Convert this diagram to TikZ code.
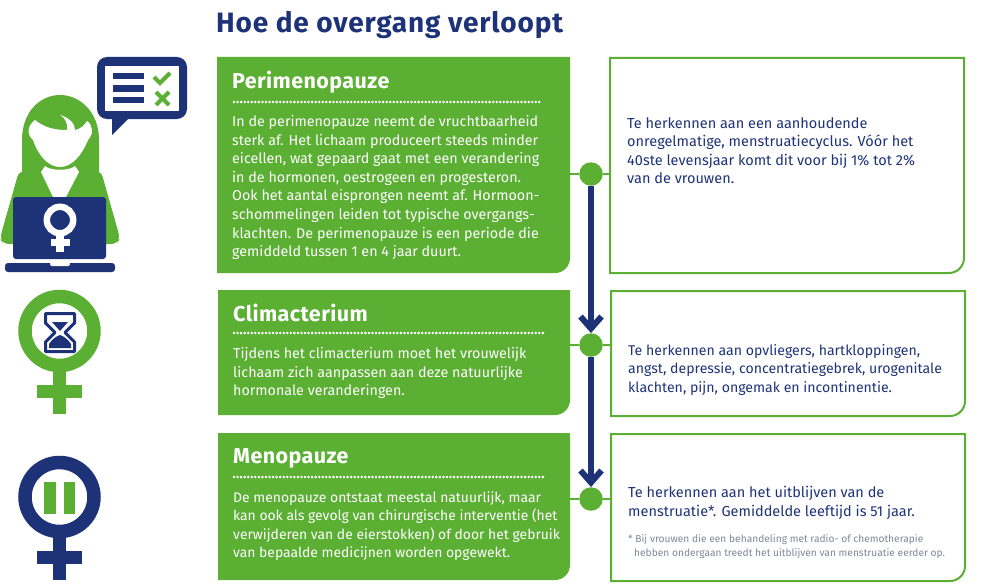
\documentclass[tikz,border=0pt]{standalone}
\usepackage{fontspec}
\setmainfont{Fira Sans}
\usetikzlibrary{arrows.meta,positioning}

\definecolor{overgangGreen}{HTML}{5BAF33}
\definecolor{overgangNavy}{HTML}{1E3278}
\definecolor{noteGrey}{HTML}{7C8798}

\tikzset{
    headtext/.style={anchor=north west, inner sep=0pt, font=\addfontfeatures{LetterSpace=3}\fontsize{28}{32}\selectfont\bfseries, text=overgangNavy},
    titletext/.style={anchor=north west, inner sep=0pt, font=\addfontfeatures{LetterSpace=2}\fontsize{21.5}{25}\selectfont\bfseries, text=white},
    bodytext/.style={anchor=north west, inner sep=0pt, align=left, font=\fontsize{14.3}{18.65}\selectfont, text=white},
    menotext/.style={bodytext, font=\fontsize{13.9}{18.65}\selectfont},
    sidetext/.style={anchor=north west, inner sep=0pt, align=left, font=\fontsize{14.5}{18.5}\selectfont, text=overgangNavy},
    climside/.style={sidetext, font=\fontsize{14.1}{18.5}\selectfont},
    notetext/.style={anchor=north west, inner sep=0pt, align=left, font=\fontsize{10.2}{14}\selectfont, text=noteGrey},
    dotline/.style={white, line width=2.8pt, line cap=round, dash pattern=on 0pt off 3.55pt},
    stepdot/.style={circle, fill=overgangGreen, minimum size=23.5pt, inner sep=0pt},
    flowline/.style={overgangNavy, line width=5.5pt, -{Straight Barb[length=12pt,width=21pt,line width=6pt]}},
    linkline/.style={overgangGreen, line width=2pt},
}

\newcommand{\cornerfill}[3]{\fill[overgangGreen] (#1) -- (#2) [rounded corners=15pt] -- (#2 |- #3) [sharp corners] -- (#1 |- #3) -- cycle;}
\newcommand{\cornerline}[3]{\draw[overgangGreen, line width=2pt] (#1) -- (#2) [rounded corners=15pt] -- (#2 |- #3) [sharp corners] -- (#1 |- #3) -- cycle;}
\newcommand{\venussign}[3]{
    \draw[#3, line width=13.5pt] (#1,#2) circle (34.5pt);
    \fill[#3] (#1-6.5,#2+38) rectangle (#1+6.5,#2+83);
    \fill[#3] (#1-22.5,#2+54) rectangle (#1+22.5,#2+67);
}

\begin{document}
\begin{tikzpicture}[x=1pt, y=-1pt]
    \useasboundingbox (0,0) rectangle (993,586);

    \node[headtext] (heading) at (216,11) {Hoe de overgang verloopt};

    \coordinate (perinw) at (217,57);
    \coordinate (perine) at (570,57);
    \coordinate (perise) at (570,273);
    \coordinate (climnw) at (218,290);
    \coordinate (climne) at (570,290);
    \coordinate (climse) at (570,415);
    \coordinate (menonw) at (218,433);
    \coordinate (menone) at (570,433);
    \coordinate (menose) at (570,580);
    \cornerfill{perinw}{perine}{perise}
    \cornerfill{climnw}{climne}{climse}
    \cornerfill{menonw}{menone}{menose}

    \coordinate (perisidenw) at (610,58);
    \coordinate (perisidene) at (964,58);
    \coordinate (perisidese) at (964,273);
    \coordinate (climsidenw) at (611,291);
    \coordinate (climsidene) at (965,291);
    \coordinate (climsidese) at (965,416);
    \coordinate (menosidenw) at (611,434);
    \coordinate (menosidene) at (965,434);
    \coordinate (menosidese) at (965,581);
    \cornerline{perisidenw}{perisidene}{perisidese}
    \cornerline{climsidenw}{climsidene}{climsidese}
    \cornerline{menosidenw}{menosidene}{menosidese}

    \node[titletext] (perititle) at (232,71) {Perimenopauze};
    \draw[dotline] (234,102) -- (540,102);
    \node[bodytext] (peribody) at (232,115) {In de perimenopauze neemt de vruchtbaarheid\\
        sterk af. Het lichaam produceert steeds minder\\
        eicellen, wat gepaard gaat met een verandering\\
        in de hormonen, oestrogeen en progesteron.\\
        Ook het aantal eisprongen neemt af. Hormoon-\\
        schommelingen leiden tot typische overgangs-\\
        klachten. De perimenopauze is een periode die\\
        gemiddeld tussen 1 en 4 jaar duurt.};

    \node[titletext] (climtitle) at (233,304) {Climacterium};
    \draw[dotline] (234,333) -- (546,333);
    \node[bodytext] (climbody) at (233,347) {Tijdens het climacterium moet het vrouwelijk\\
        lichaam zich aanpassen aan deze natuurlijke\\
        hormonale veranderingen.};

    \node[titletext] (menotitle) at (233,448) {Menopauze};
    \draw[dotline] (234,477) -- (546,477);
    \node[menotext] (menobody) at (233,491) {De menopauze ontstaat meestal natuurlijk, maar\\
        kan ook als gevolg van chirurgische interventie (het\\
        verwijderen van de eierstokken) of door het gebruik\\
        van bepaalde medicijnen worden opgewekt.};

    \node[sidetext] (peritext) at (627,117) {Te herkennen aan een aanhoudende\\
        onregelmatige, menstruatiecyclus. V\'o\'or het\\
        40ste levensjaar komt dit voor bij 1\% tot 2\%\\
        van de vrouwen.};
    \node[climside] (climtext) at (628,344) {Te herkennen aan opvliegers, hartkloppingen,\\
        angst, depressie, concentratiegebrek, urogenitale\\
        klachten, pijn, ongemak en incontinentie.};
    \node[sidetext] (menotext) at (628,486) {Te herkennen aan het uitblijven van de\\
        menstruatie*. Gemiddelde leeftijd is 51 jaar.};
    \node[notetext] (menonote) at (628,534) {* Bij vrouwen die een behandeling met radio- of chemotherapie\\
        \hspace*{6pt}hebben ondergaan treedt het uitblijven van menstruatie eerder op.};

    \node[stepdot] (peridot) at (591,174) {};
    \node[stepdot] (climdot) at (591,345) {};
    \node[stepdot] (menodot) at (591,499) {};
    \draw[linkline] (peridot -| perise) -- (peridot);
    \draw[linkline] (peridot) -- (peridot -| perisidenw);
    \draw[linkline] (climdot -| climse) -- (climdot);
    \draw[linkline] (climdot) -- (climdot -| climsidenw);
    \draw[linkline] (menodot -| menose) -- (menodot);
    \draw[linkline] (menodot) -- (menodot -| menosidenw);
    \draw[flowline] (peridot) -- (climdot);
    \draw[flowline] (climdot) -- (menodot);

    % person
    \fill[overgangGreen] (22,176) -- (22,140) .. controls (22,112) and (40,95) .. (60,95)
        .. controls (80,95) and (99,112) .. (99,140) -- (99,176) -- cycle;
    \fill[overgangGreen, rounded corners=6pt] (19,171) -- (0,238) -- (3,244) -- (117,244) -- (120,238) -- (101,171) -- cycle;
    \fill[white] (35,120) .. controls (45,128) and (55,130) .. (67,130)
        .. controls (68,123) and (65,118) .. (60,115)
        .. controls (70,118) and (75,124) .. (75,130)
        .. controls (80,129) and (84,126) .. (87,121)
        .. controls (93,125) and (94,134) .. (88,140)
        .. controls (82,155) and (72,167) .. (60,167)
        .. controls (48,167) and (38,155) .. (33,140)
        .. controls (26,134) and (28,125) .. (35,120) -- cycle;
    \fill[white] (41,172) -- (45,166) .. controls (50,171) and (70,171) .. (75,166) -- (79,172) -- (66,197) -- (53,197) -- cycle;
    \fill[overgangNavy, rounded corners=3pt] (13,259) -- (13,197) -- (106,197) -- (106,259) -- cycle;
    \fill[overgangNavy, rounded corners=3pt] (5,263) rectangle (115,272);
    \fill[white, rounded corners=2pt] (50,262) -- (50,266) -- (70,266) -- (70,262) -- cycle;
    \draw[white, line width=6.5pt] (60,220) circle (13.2pt);
    \fill[white] (56,236) rectangle (64,252);
    \fill[white] (51,239) rectangle (70,246);

    % speech bubble
    \fill[overgangNavy, rounded corners=10pt] (97,57) rectangle (187,119);
    \fill[overgangNavy] (112,115) -- (112,135) -- (128,119) -- cycle;
    \fill[white] (105,66) rectangle (179,111);
    \fill[overgangNavy] (113,73) rectangle (144,79);
    \fill[overgangNavy] (113,85) rectangle (144,92);
    \fill[overgangNavy] (113,97) rectangle (144,103);
    \draw[overgangGreen, line width=4pt] (154,77) -- (160,83) -- (170,73);
    \draw[overgangGreen, line width=4pt] (156,92) -- (169,105);
    \draw[overgangGreen, line width=4pt] (169,92) -- (156,105);

    % signs
    \venussign{59.5}{331}{overgangGreen}
    \venussign{59.5}{497}{overgangNavy}
    \fill[overgangGreen] (44,482) rectangle (56,514);
    \fill[overgangGreen] (64,482) rectangle (75,514);

    % hourglass
    \draw[overgangNavy, line width=3pt, fill=white, line join=round] (45.5,313.5) -- (74.5,313.5) -- (74.5,323) -- (65,332.5) -- (74.5,342) -- (74.5,351.5) -- (45.5,351.5) -- (45.5,342) -- (55,332.5) -- (45.5,323) -- cycle;
    \fill[overgangNavy] (52,322) -- (68,322) -- (60,331) -- cycle;
    \fill[overgangNavy] (49,348) -- (49,344) .. controls (52,339) and (57,336) .. (60,335)
        .. controls (63,336) and (68,339) .. (71,344) -- (71,348) -- cycle;
\end{tikzpicture}
\end{document}
